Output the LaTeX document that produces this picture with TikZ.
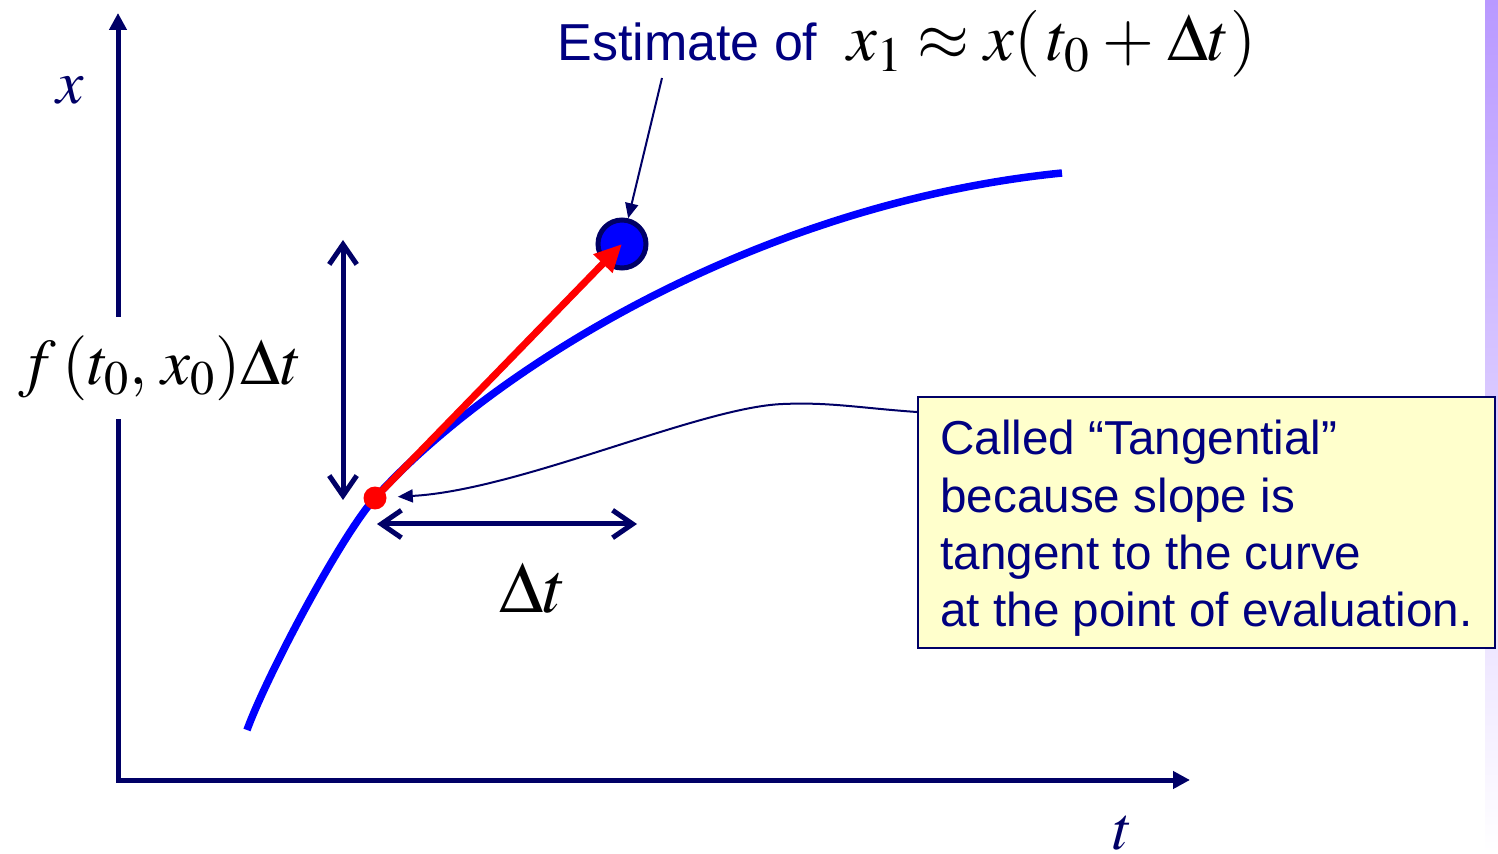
\documentclass[tikz,border=0pt]{standalone}
\usepackage{mathptmx}
\usepackage[no-math]{fontspec}
\setmainfont{Liberation Sans}
\usepackage{xcolor}
\usepackage{tikz}
\usetikzlibrary{arrows.meta, calc}
\definecolor{AxisNavy}{HTML}{000066}
\definecolor{TextNavy}{HTML}{000080}
\definecolor{CurveBlue}{HTML}{0000FF}
\definecolor{NoteYellow}{HTML}{FFFFCC}
\definecolor{StripPurple}{HTML}{B999FF}
\definecolor{StripMid}{HTML}{E4DAFF}

\begin{document}
\begin{tikzpicture}[x=0.02cm, y=-0.02cm,
  axis/.style={draw=AxisNavy, line width=0.1cm, line join=miter, {Triangle[length=0.34cm, width=0.34cm]}-{Triangle[length=0.34cm, width=0.34cm]}},
  span/.style={draw=AxisNavy, line width=0.1cm, {Straight Barb[length=0.4cm, width=0.55cm]}-{Straight Barb[length=0.4cm, width=0.55cm]}},
  pointer/.style={draw=AxisNavy, line width=0.04cm, -{Triangle[length=0.3cm, width=0.26cm]}},
  mathlbl/.style={inner sep=0pt, font=\fontsize{35}{40}\selectfont},
  note/.style={draw=AxisNavy, line width=0.04cm, fill=NoteYellow, text=TextNavy, align=left, minimum width=11.54cm, minimum height=5.02cm, font=\fontsize{27.1}{32.7}\selectfont},
  ]
  \useasboundingbox (0,0) rectangle (1498,854);
  \shade[top color=StripPurple, middle color=StripMid, bottom color=white] (1485,0) rectangle (1498,854);

  % axes
  \coordinate (origin) at (118,780);
  \coordinate (xtip) at (118,13);
  \coordinate (ttip) at (1190,780);
  \draw[axis] (xtip) -- (origin) -- (ttip);
  \node[mathlbl, text=AxisNavy, anchor=base] (xlbl) at (70,104) {$x$};
  \node[mathlbl, text=AxisNavy, anchor=base] (tlbl) at (1123,849) {$t$};

  % solution curve
  \draw[CurveBlue, line width=0.15cm] (247,730) .. controls (267,675) and (341.5,535) .. (375,498)
    .. controls (495.6,364.8) and (762,203) .. (1062,173);

  \node[circle, fill=CurveBlue, draw=AxisNavy, line width=0.1cm, minimum size=0.96cm, inner sep=0pt] (est) at (622,244) {};
  \node[circle, fill=red, inner sep=0pt, minimum size=0.46cm] (start) at (375,498) {};
  \draw[red, line width=0.14cm, -{Triangle[length=0.55cm, width=0.5cm]}] (start.center) -- (est.center);

  % rise and run
  \coordinate (riseA) at (343,500);
  \coordinate (riseB) at (343,240);
  \coordinate (runA) at (377,524);
  \coordinate (runB) at (637,524);
  \draw[span] (riseA) -- (riseB);
  \draw[span] (runA) -- (runB);
  \node[mathlbl, fill=white, minimum height=2.06cm, font=\fontsize{37}{42}\selectfont] (rise) at (160,368) {$f\,(t_0,\,x_0)\Delta t$};
  \node[mathlbl, font=\fontsize{41}{46}\selectfont] (run) at (533,588) {$\Delta t$};

  % labels
  \node[anchor=base west, inner sep=0pt] (estlbl) at (557,61) {{\color{TextNavy}\fontsize{29.6}{34}\selectfont Estimate of}\hspace{0.6cm}{\fontsize{38}{42}\selectfont$x_1\approx x(\,t_0\mskip1mu+\mskip1mu\Delta t)$}};
  \coordinate (estfoot) at (662,78);
  \draw[pointer] (estfoot) -- (est);

  \node[note] (tang) at (1206.5,522.5) {\rule{0pt}{0.93cm}Called “Tangential”\\because slope is\\tangent to the curve\\at the point of evaluation.};
  \draw[pointer, shorten >=0.22cm] ($(tang.north west)+(0,16)$) .. controls (860,408) and (830,402) .. (783,404) .. controls (700,407) and (520,490) .. (start);
\end{tikzpicture}
\end{document}
